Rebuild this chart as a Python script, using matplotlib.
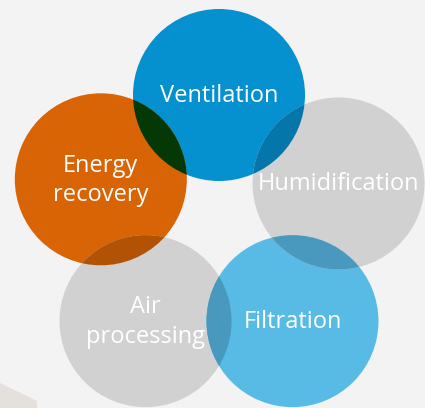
import numpy as np
import matplotlib
matplotlib.use("Agg")
from matplotlib import pyplot as plt
from matplotlib.patches import Circle, Polygon
from matplotlib.colors import to_rgb

# circles, going round the pentagon from the top, anticlockwise
labels = ["Ventilation", "Energy\nrecovery", "Air\nprocessing", "Filtration", "Humidification"]
colors = ["#0590d0", "#d96405", "#d1d1d1", "#58bbe6", "#d1d1d1"]
angles = [90, 161, 234, 306, 17]

bg = "#f3f3f3"
W, H = 425, 408
ring_center = (219, 220)
ring_radius = 125
circle_radius = 86


def multiply(c1, c2):
    # overlap colour, as in a "multiply" blend
    a = np.array(to_rgb(c1))
    b = np.array(to_rgb(c2))
    return tuple(a * b)


fig = plt.figure(figsize=(W / 100, H / 100), dpi=100, facecolor=bg)
ax = fig.add_axes([0, 0, 1, 1])
ax.set_xlim(0, W)
ax.set_ylim(H, 0)
ax.set_aspect("equal")
ax.axis("off")
ax.set_facecolor(bg)

# faint photo corner bottom left
ax.add_patch(Polygon([(0, 383), (37, 401), (37, 408), (0, 408)], closed=True,
                     facecolor="#e4e0dc", edgecolor="none", zorder=0))

centers = []
for a in angles:
    t = np.radians(a)
    centers.append((ring_center[0] + ring_radius * np.cos(t),
                    ring_center[1] - ring_radius * np.sin(t)))

patches = []
for c, col in zip(centers, colors):
    p = Circle(c, circle_radius, facecolor=col, edgecolor="none", zorder=1)
    ax.add_patch(p)
    patches.append(p)

# overlaps of neighbouring circles
n = len(centers)
for i in range(n):
    j = (i + 1) % n
    ov = Circle(centers[j], circle_radius, facecolor=multiply(colors[i], colors[j]),
                edgecolor="none", zorder=2)
    ax.add_patch(ov)
    ov.set_clip_path(patches[i])

for c, lab in zip(centers, labels):
    ax.text(c[0], c[1] + 1, lab, ha="center", va="center", color="white",
            fontsize=17, family="Open Sans", linespacing=1.3, zorder=3)

fig.savefig("out.png", dpi=100, facecolor=bg)
